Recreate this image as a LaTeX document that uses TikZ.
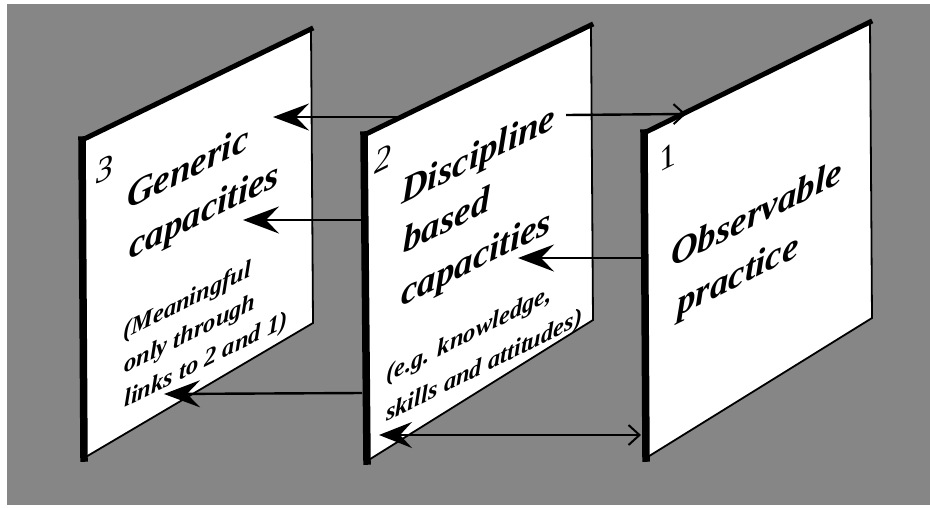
\documentclass[tikz,border=0pt]{standalone}
\usepackage{fontspec}
\setmainfont{Liberation Serif}
\usetikzlibrary{arrows.meta}
\definecolor{bggray}{RGB}{134,134,134}
\tikzset{
  panelbody/.style={fill=white, draw=black, line width=1.8pt, line join=miter},
  leftedge/.style={draw=black, line width=7.5pt, line cap=rect},
  topedge/.style={draw=black, line width=5pt, line cap=rect},
  txt/.style={inner sep=0pt, anchor=base west, yslant=0.5, text=black},
  maintxt/.style={txt, font=\fontsize{37pt}{40pt}\selectfont\bfseries\itshape},
  subtxt/.style={txt, font=\fontsize{24.5pt}{28pt}\selectfont\bfseries\itshape},
  numtxt/.style={txt, font=\fontsize{34pt}{36pt}\selectfont\itshape},
  numup/.style={txt, font=\fontsize{34pt}{36pt}\selectfont},
  conn/.style={draw=black, line width=2.4pt},
  solidhead/.style={-{Stealth[length=36pt, width=27pt, inset=13pt]}},
  openhead/.style={-{Straight Barb[length=11pt, width=20pt, line width=2pt]}},
  bothhead/.style={{Stealth[length=33pt, width=26pt, inset=12pt]}-{Straight Barb[length=11pt, width=20pt, line width=2pt]}}
}
\begin{document}
\begin{tikzpicture}[x=1pt, y=-1pt]
\useasboundingbox (0,0) rectangle (930,507);
\fill[white] (0,0) rectangle (930,507);
\fill[bggray] (7,4) rectangle (930,505);

% ---------- panel 3 ----------
\coordinate (p3tl) at (82,140);
\coordinate (p3tr) at (311,29);
\coordinate (p3br) at (313,323);
\coordinate (p3bl) at (84,458);
\path[panelbody] (p3tl) -- (p3tr) -- (p3br) -- (p3bl) -- cycle;
\draw[topedge] (p3tl) -- (p3tr);
\draw[leftedge] (p3tl) -- (p3bl);

\coordinate (t3n) at (96,185);
\coordinate (t3a) at (127,210);
\coordinate (t3b) at (129,260);
\coordinate (t3c) at (123,340);
\coordinate (t3d) at (124,374);
\coordinate (t3e) at (124,408);
\node[numtxt] (n3) at (t3n) {3};
\node[maintxt] (l3a) at (t3a) {Generic};
\node[maintxt] (l3b) at (t3b) {capacities};
\node[subtxt] (l3c) at (t3c) {(Meaningful};
\node[subtxt] (l3d) at (t3d) {only through};
\node[subtxt] (l3e) at (t3e) {links to 2 and 1)};

% arrow from behind panel 2 to panel 3 (top)
\coordinate (a1s) at (430,117);
\coordinate (a1e) at (273,117);
\draw[conn, solidhead] (a1s) -- (a1e);

% ---------- panel 2 ----------
\coordinate (p2tl) at (364,135);
\coordinate (p2tr) at (591,25);
\coordinate (p2br) at (593,320);
\coordinate (p2bl) at (367,461);
\path[panelbody] (p2tl) -- (p2tr) -- (p2br) -- (p2bl) -- cycle;
\draw[topedge] (p2tl) -- (p2tr);
\draw[leftedge] (p2tl) -- (p2bl);

\coordinate (t2n) at (374,175);
\coordinate (t2a) at (401,205);
\coordinate (t2b) at (403,254);
\coordinate (t2c) at (401,307);
\coordinate (t2d) at (386,383);
\coordinate (t2e) at (386,422);
\node[numtxt] (n2) at (t2n) {2};
\node[maintxt] (l2a) at (t2a) {Discipline};
\node[maintxt] (l2b) at (t2b) {based};
\node[maintxt] (l2c) at (t2c) {capacities};
\node[subtxt] (l2d) at (t2d) {(e.g. knowledge,};
\node[subtxt] (l2e) at (t2e) {skills and attitudes)};

% ---------- panel 1 ----------
\coordinate (p1tl) at (644,133);
\coordinate (p1tr) at (870,22);
\coordinate (p1br) at (872,318);
\coordinate (p1bl) at (646,458);
\path[panelbody] (p1tl) -- (p1tr) -- (p1br) -- (p1bl) -- cycle;
\draw[topedge] (p1tl) -- (p1tr);
\draw[leftedge] (p1tl) -- (p1bl);

\coordinate (t1n) at (659,173);
\coordinate (t1a) at (671,268);
\coordinate (t1b) at (677,317);
\node[numup] (n1) at (t1n) {1};
\node[maintxt] (l1a) at (t1a) {Observable};
\node[maintxt] (l1b) at (t1b) {practice};

% ---------- connectors ----------
\coordinate (a2s) at (566,115);
\coordinate (a2e) at (686,114);
\draw[conn, openhead] (a2s) -- (a2e);

\coordinate (a3s) at (362,220);
\coordinate (a3e) at (243,220);
\draw[conn, solidhead] (a3s) -- (a3e);

\coordinate (a4s) at (641,258);
\coordinate (a4e) at (518,258);
\draw[conn, solidhead] (a4s) -- (a4e);

\coordinate (a5s) at (362,393);
\coordinate (a5e) at (164,394);
\draw[conn, solidhead] (a5s) -- (a5e);

\coordinate (a6s) at (379,435);
\coordinate (a6e) at (641,435);
\draw[conn, bothhead] (a6s) -- (a6e);
\end{tikzpicture}
\end{document}
